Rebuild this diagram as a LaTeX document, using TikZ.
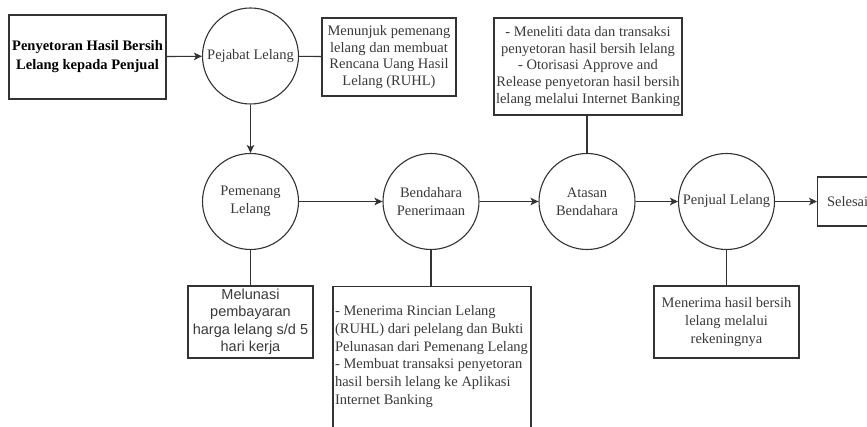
\documentclass[tikz,border=0pt]{standalone}
\usepackage{fontspec}
\setmainfont{Liberation Serif}
\newfontfamily\arialfont{Liberation Sans}
\usetikzlibrary{arrows.meta}
\definecolor{linec}{HTML}{333333}
\definecolor{textc}{HTML}{3A3A3A}
\newcommand\dfont[1]{\fontsize{14.5}{#1}\selectfont}
\begin{document}
\begin{tikzpicture}[x=1pt,y=-1pt,line width=1.1pt,
  circ/.style={circle,draw=linec,minimum size=96pt,inner sep=0pt,align=center,font=\dfont{17.7},text=textc},
  boxn/.style={rectangle,draw=linec,inner sep=1pt,align=center,font=\dfont{16.7},text=textc},
  arr/.style={draw=linec,-{Stealth[length=8pt,width=7.5pt,inset=2pt]}},
  ln/.style={draw=linec}]
\clip (0,0) rectangle (867,427);
\fill[white] (0,0) rectangle (867,427);
% nodes
\node[boxn,minimum width=157pt,minimum height=84pt,font=\bfseries\dfont{19},text=black] (start) at (87.5,57)
  {Penyetoran Hasil Bersih\\Lelang kepada Penjual};
\node[circ] (pejabat) at (250.5,56) {Pejabat Lelang};
\node[boxn,minimum width=134pt,minimum height=78pt] (menunjuk) at (389,57)
  {Menunjuk pemenang\\lelang dan membuat\\Rencana Uang Hasil\\Lelang (RUHL)};
\node[circ] (pemenang) at (250.5,201.5) {Pemenang\\Lelang};
\node[boxn,minimum width=125pt,minimum height=72pt,font=\arialfont\dfont{17.5}] (melunasi) at (250.5,322)
  {Melunasi\\pembayaran\\harga lelang s/d 5\\hari kerja};
\node[circ] (bendahara) at (431,201.5) {Bendahara\\Penerimaan};
\node[rectangle,draw=linec,minimum width=198pt,minimum height=190pt,anchor=north] (bbox) at (432,286) {};
\node[anchor=north west,align=left,inner sep=0pt,font=\dfont{17.7},text=textc] (btext) at (334.5,305)
  {- Menerima Rincian Lelang\\(RUHL) dari pelelang dan Bukti\\Pelunasan dari Pemenang Lelang\\- Membuat transaksi penyetoran\\hasil bersih lelang ke Aplikasi\\Internet Banking};
\node[circ] (atasan) at (587,201.5) {Atasan\\Bendahara};
\node[boxn,minimum width=188pt,minimum height=97pt] (atasanbox) at (588,66.5)
  {- Meneliti data dan transaksi\\penyetoran hasil bersih lelang\\- Otorisasi Approve and\\Release penyetoran hasil bersih\\lelang melalui Internet Banking};
\node[circ] (penjual) at (726.5,201.5) {Penjual Lelang};
\node[boxn,minimum width=145pt,minimum height=72pt,font=\dfont{17.8}] (menerima) at (726.5,322)
  {Menerima hasil bersih\\lelang melalui\\rekeningnya};
\node[rectangle,draw=linec,minimum width=80pt,minimum height=49pt,anchor=west,inner sep=0pt] (selesai) at (817,201.5) {};
\node[anchor=west,inner sep=0pt,font=\dfont{17},text=textc] (seltext) at (826.5,201.5) {Selesai};
% connectors
\draw[arr] (start) -- (pejabat);
\draw[ln] (pejabat) -- (menunjuk);
\draw[arr] (pejabat) -- (pemenang);
\draw[ln] (pemenang) -- (melunasi);
\draw[arr] (pemenang) -- (bendahara);
\draw[ln] (bendahara) -- (bendahara |- bbox.north);
\draw[arr] (bendahara) -- (atasan);
\draw[ln] (atasanbox.south -| atasan) -- (atasan);
\draw[arr] (atasan) -- (penjual);
\draw[ln] (penjual) -- (menerima);
\draw[arr] (penjual) -- (selesai);
\end{tikzpicture}
\end{document}
